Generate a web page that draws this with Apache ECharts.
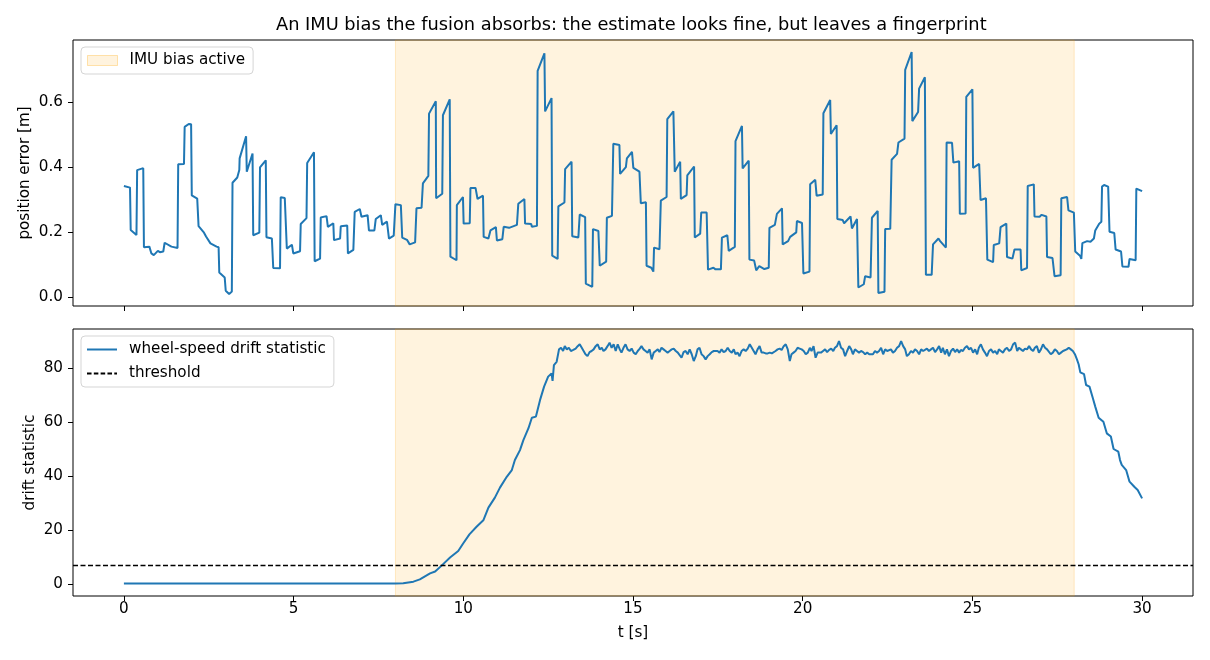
<!DOCTYPE html>
<html lang="en">
<head>
  <meta charset="UTF-8">
  <script src="https://cdn.jsdelivr.net/npm/echarts@6/dist/echarts.min.js"></script>
  <title>IMU bias fingerprint</title>
</head>
<body style="margin:0;background:#fff;">
  <div id="main" style="width:1210px;height:660px;"></div>
  <script type="text/javascript">
    // tick positions / labels
    var xTicks = [0, 5, 10, 15, 20, 25, 30];
    var errTicks = [0.0, 0.2, 0.4, 0.6];
    var driftTicks = [0, 20, 40, 60, 80];

    // bias window [s] and detection threshold
    var biasSpan = [8, 28];
    var threshold = 6.8;

    // position error [m], (t, value) vertices
    var errPoints = [
      [0.00,0.342],[0.18,0.337],[0.20,0.206],[0.37,0.191],[0.39,0.391],[0.57,0.397],[0.59,0.153],[0.75,0.155],
      [0.81,0.134],[0.88,0.129],[1.00,0.142],[1.06,0.138],[1.16,0.140],[1.20,0.167],[1.40,0.155],[1.58,0.151],
      [1.60,0.409],[1.77,0.410],[1.79,0.524],[1.91,0.533],[1.98,0.532],[2.00,0.313],[2.16,0.303],[2.20,0.218],
      [2.36,0.198],[2.42,0.186],[2.55,0.165],[2.73,0.155],[2.79,0.153],[2.81,0.075],[2.97,0.060],[3.00,0.019],
      [3.10,0.009],[3.18,0.017],[3.20,0.352],[3.34,0.368],[3.40,0.391],[3.41,0.427],[3.60,0.495],[3.62,0.386],
      [3.79,0.442],[3.81,0.190],[3.99,0.198],[4.01,0.399],[4.18,0.421],[4.20,0.184],[4.36,0.180],[4.40,0.089],
      [4.60,0.088],[4.62,0.307],[4.74,0.305],[4.77,0.311],[4.80,0.149],[4.95,0.161],[4.99,0.134],[5.19,0.141],
      [5.21,0.225],[5.38,0.243],[5.40,0.413],[5.60,0.446],[5.62,0.110],[5.78,0.118],[5.80,0.245],[5.97,0.249],
      [6.01,0.216],[6.17,0.227],[6.19,0.175],[6.37,0.180],[6.39,0.218],[6.58,0.220],[6.60,0.134],[6.76,0.145],
      [6.80,0.262],[6.95,0.271],[7.00,0.247],[7.18,0.252],[7.22,0.205],[7.38,0.205],[7.42,0.240],[7.57,0.252],
      [7.61,0.222],[7.75,0.232],[7.81,0.180],[7.95,0.189],[8.00,0.286],[8.16,0.283],[8.20,0.183],[8.34,0.176],
      [8.42,0.162],[8.58,0.168],[8.62,0.273],[8.77,0.275],[8.81,0.350],[8.97,0.373],[8.99,0.565],[9.19,0.603],
      [9.20,0.304],[9.38,0.318],[9.40,0.560],[9.60,0.609],[9.62,0.124],[9.80,0.113],[9.81,0.283],[9.99,0.308],
      [10.01,0.226],[10.19,0.227],[10.21,0.336],[10.36,0.336],[10.42,0.302],[10.58,0.312],[10.60,0.185],[10.74,0.180],
      [10.80,0.205],[10.96,0.215],[10.99,0.174],[11.15,0.178],[11.19,0.216],[11.35,0.213],[11.40,0.216],[11.58,0.222],
      [11.62,0.287],[11.80,0.302],[11.82,0.226],[12.00,0.225],[12.02,0.216],[12.17,0.219],[12.19,0.697],[12.39,0.751],
      [12.41,0.572],[12.60,0.613],[12.62,0.127],[12.78,0.117],[12.80,0.279],[12.98,0.291],[13.00,0.394],[13.19,0.417],
      [13.21,0.187],[13.39,0.183],[13.43,0.254],[13.59,0.246],[13.61,0.041],[13.80,0.031],[13.82,0.209],[13.98,0.203],
      [14.02,0.096],[14.21,0.109],[14.23,0.244],[14.38,0.250],[14.42,0.472],[14.60,0.468],[14.62,0.379],[14.79,0.400],
      [14.82,0.427],[14.97,0.447],[15.01,0.398],[15.19,0.386],[15.23,0.289],[15.38,0.292],[15.40,0.096],[15.54,0.090],
      [15.60,0.078],[15.62,0.152],[15.78,0.147],[15.82,0.297],[15.99,0.308],[16.01,0.548],[16.19,0.572],[16.23,0.386],
      [16.39,0.417],[16.41,0.302],[16.58,0.314],[16.60,0.375],[16.80,0.402],[16.82,0.183],[16.98,0.195],[17.01,0.260],
      [17.17,0.260],[17.21,0.084],[17.37,0.090],[17.43,0.085],[17.59,0.085],[17.62,0.183],[17.78,0.190],[17.82,0.142],
      [18.00,0.154],[18.02,0.480],[18.21,0.527],[18.23,0.396],[18.41,0.420],[18.43,0.115],[18.57,0.112],[18.63,0.082],
      [18.72,0.095],[18.87,0.086],[19.00,0.090],[19.02,0.213],[19.18,0.222],[19.24,0.256],[19.39,0.273],[19.41,0.162],
      [19.57,0.172],[19.63,0.185],[19.81,0.199],[19.83,0.234],[19.98,0.228],[20.02,0.072],[20.20,0.078],[20.22,0.347],
      [20.37,0.361],[20.41,0.312],[20.59,0.316],[20.61,0.566],[20.81,0.607],[20.83,0.502],[21.00,0.529],[21.02,0.240],
      [21.18,0.237],[21.22,0.227],[21.41,0.248],[21.45,0.211],[21.60,0.240],[21.64,0.029],[21.80,0.039],[21.84,0.064],
      [22.00,0.060],[22.04,0.244],[22.21,0.265],[22.23,0.012],[22.41,0.016],[22.43,0.209],[22.58,0.210],[22.62,0.423],
      [22.78,0.441],[22.82,0.476],[23.00,0.488],[23.02,0.700],[23.21,0.755],[23.23,0.542],[23.40,0.570],[23.43,0.642],
      [23.60,0.677],[23.63,0.068],[23.80,0.068],[23.84,0.162],[24.00,0.180],[24.05,0.172],[24.10,0.175],[24.22,0.152],
      [24.24,0.476],[24.40,0.475],[24.44,0.414],[24.61,0.418],[24.63,0.256],[24.80,0.257],[24.82,0.617],[25.00,0.640],
      [25.02,0.398],[25.20,0.410],[25.24,0.299],[25.40,0.304],[25.44,0.115],[25.61,0.107],[25.63,0.160],[25.79,0.165],
      [25.83,0.215],[26.00,0.226],[26.02,0.123],[26.18,0.118],[26.24,0.146],[26.42,0.146],[26.44,0.082],[26.61,0.089],
      [26.63,0.342],[26.81,0.347],[26.83,0.248],[26.98,0.247],[27.04,0.253],[27.18,0.248],[27.20,0.123],[27.36,0.120],
      [27.42,0.064],[27.60,0.067],[27.62,0.304],[27.79,0.308],[27.83,0.267],[27.99,0.260],[28.03,0.140],[28.17,0.127],
      [28.21,0.117],[28.24,0.166],[28.38,0.172],[28.48,0.170],[28.58,0.180],[28.62,0.205],[28.74,0.226],[28.80,0.232],
      [28.82,0.340],[28.88,0.345],[29.00,0.340],[29.04,0.201],[29.18,0.197],[29.22,0.146],[29.38,0.140],[29.42,0.094],
      [29.60,0.093],[29.63,0.117],[29.81,0.113],[29.83,0.334],[30.00,0.326]
    ];

    // wheel-speed drift statistic: quiet, ramp, plateau, decay (t, value)
    var driftRise = [
      [0.00,0.2],[8.00,0.2],[8.23,0.25],[8.53,0.86],[8.72,1.7],[9.02,3.95],[9.17,4.6],[9.36,6.8],[9.61,9.8],
      [9.85,12.2],[10.00,15.1],[10.18,18.4],[10.39,21.2],[10.59,23.6],[10.74,28.3],[10.93,32.0],[11.08,35.7],
      [11.28,39.7],[11.43,42.2],[11.52,45.9],[11.67,49.6],[11.77,53.3],[11.92,57.7],[12.02,61.6],[12.14,62.0],
      [12.26,68.1],[12.38,73.1],[12.50,76.8],[12.60,78.0],[12.63,75.2],[12.67,81.1],[12.75,82.3]
    ];
    var driftPlateau = [
      [12.82,86.9],[12.88,87.5],[12.94,86.3],[12.99,88.1],[13.05,86.9],[13.11,87.5],[13.17,86.3],[13.24,86.7],
      [13.31,87.2],[13.37,88.1],[13.43,88.8],[13.49,87.5],[13.54,86.9],[13.60,85.1],[13.66,84.4],[13.72,85.9],
      [13.78,86.3],[13.84,86.9],[13.90,88.1],[13.96,88.8],[14.02,86.9],[14.08,87.5],[14.13,86.3],[14.19,86.9],
      [14.25,88.1],[14.31,89.4],[14.37,87.5],[14.43,88.8],[14.49,86.3],[14.55,88.8],[14.61,86.9],[14.66,85.7],
      [14.72,87.5],[14.78,88.8],[14.84,86.9],[14.90,86.3],[14.96,87.2],[15.02,85.7],[15.08,85.1],[15.14,86.3],
      [15.20,87.2],[15.25,88.1],[15.31,86.9],[15.37,86.3],[15.43,85.7],[15.49,86.9],[15.55,83.2],[15.61,85.7],
      [15.67,86.3],[15.73,86.9],[15.78,85.9],[15.84,87.5],[15.90,86.9],[15.96,86.3],[16.02,85.7],[16.08,86.3],
      [16.14,86.9],[16.20,87.2],[16.26,86.3],[16.32,85.7],[16.37,86.3],[16.43,83.8],[16.49,85.9],[16.55,86.3],
      [16.61,85.1],[16.67,86.9],[16.73,85.1],[16.79,82.6],[16.85,84.4],[16.90,86.9],[16.96,87.5],[17.02,85.1],
      [17.08,84.4],[17.14,83.2],[17.20,84.4],[17.26,85.1],[17.32,85.9],[17.38,86.3],[17.43,85.9],[17.49,86.3],
      [17.55,85.7],[17.61,86.9],[17.67,85.9],[17.73,86.3],[17.79,87.5],[17.85,86.3],[17.91,85.7],[17.97,86.9],
      [18.02,85.1],[18.08,85.7],[18.14,84.4],[18.20,86.3],[18.26,86.9],[18.32,86.3],[18.38,87.2],[18.44,88.8],
      [18.50,87.5],[18.55,86.9],[18.61,85.1],[18.67,86.9],[18.73,88.1],[18.79,85.7],[18.85,85.7],[18.91,85.4],
      [18.97,85.4],[19.03,85.7],[19.09,85.4],[19.14,85.7],[19.20,86.3],[19.26,86.9],[19.32,87.2],[19.38,86.7],
      [19.44,88.1],[19.50,88.8],[19.56,86.9],[19.62,82.6],[19.67,85.1],[19.73,85.7],[19.79,86.3],[19.85,87.5],
      [19.91,87.2],[19.97,86.9],[20.03,86.3],[20.09,85.1],[20.15,85.7],[20.21,87.5],[20.26,86.3],[20.32,88.1],
      [20.38,83.8],[20.44,85.7],[20.54,85.7],[20.60,86.3],[20.66,86.9],[20.72,85.9],[20.78,86.7],[20.84,87.2],
      [20.90,86.3],[20.95,87.5],[21.01,88.1],[21.07,90.0],[21.13,87.5],[21.19,86.9],[21.25,84.4],[21.31,86.3],
      [21.37,88.1],[21.43,86.9],[21.48,85.1],[21.54,86.9],[21.60,86.3],[21.66,85.7],[21.72,86.3],[21.78,85.9],
      [21.84,85.1],[21.90,85.7],[21.96,85.1],[22.01,84.4],[22.07,85.1],[22.13,86.3],[22.19,85.7],[22.25,86.3],
      [22.31,87.5],[22.37,85.1],[22.43,86.9],[22.49,86.3],[22.54,85.9],[22.60,86.9],[22.66,85.7],[22.72,86.3],
      [22.78,87.5],[22.84,88.1],[22.90,90.0],[22.96,88.1],[23.02,86.9],[23.07,84.4],[23.13,85.1],[23.19,86.3],
      [23.25,85.7],[23.31,86.9],[23.37,86.3],[23.43,85.1],[23.49,86.9],[23.55,86.3],[23.60,85.7],[23.66,87.2],
      [23.72,86.3],[23.78,86.9],[23.84,87.5],[23.90,85.9],[23.96,86.9],[24.02,88.1],[24.08,85.7],[24.13,87.5],
      [24.19,85.1],[24.25,86.9],[24.31,84.4],[24.37,86.3],[24.43,87.2],[24.49,85.9],[24.55,86.9],[24.61,85.7],
      [24.66,86.7],[24.72,86.3],[24.78,87.5],[24.84,88.1],[24.90,86.9],[24.96,87.5],[25.02,85.7],[25.08,86.9],
      [25.14,85.1],[25.19,87.5],[25.25,88.8],[25.31,86.9],[25.37,85.7],[25.43,84.4],[25.49,86.3],[25.55,86.9],
      [25.61,85.7],[25.67,86.3],[25.73,85.1],[25.78,86.9],[25.84,86.3],[25.90,85.7],[25.96,86.9],[26.02,87.5],
      [26.08,86.3],[26.14,86.9],[26.20,88.8],[26.26,89.4],[26.32,86.3],[26.37,87.5],[26.43,86.9],[26.49,86.3],
      [26.55,87.2],[26.61,86.9],[26.67,88.1],[26.73,86.9],[26.79,86.3],[26.84,87.5],[26.90,88.1],[26.96,85.7],
      [27.02,86.9],[27.08,88.8],[27.14,87.5],[27.20,86.9],[27.25,86.3],[27.31,85.1],[27.37,85.7],[27.43,86.9],
      [27.49,86.3],[27.55,85.1],[27.61,85.7],[27.67,86.3],[27.72,86.3],[27.78,86.9],[27.84,87.5],[27.90,86.9],
      [27.96,86.3],[28.02,85.1],[28.08,83.2],[28.13,81.4]
    ];
    var driftDecay = [
      [28.18,78.4],[28.29,77.7],[28.35,73.7],[28.45,73.1],[28.55,68.8],[28.62,65.7],[28.72,61.6],[28.86,60.1],
      [28.96,55.8],[29.08,54.6],[29.16,50.0],[29.30,49.0],[29.35,45.9],[29.40,44.1],[29.53,42.2],[29.63,37.9],
      [29.77,36.0],[29.87,34.8],[30.00,31.7]
    ];

    var driftPoints = driftRise.concat(driftPlateau, driftDecay);

    var myChart = echarts.init(document.getElementById('main'));
    var FONT = 'DejaVu Sans';
    var FS = 15.2;
    var BLUE = '#1f77b4';
    var SPAN_FILL = 'rgba(255,165,0,0.13)';
    var SPAN_EDGE = 'rgba(255,165,0,0.2)';
    var DASH_ICON = 'path://M0,0h5v2h-5zM7.5,0h5v2h-5zM15,0h5v2h-5zM22.5,0h5v2h-5zM30,0h3v2h-3z';

    function xAxisFor(idx, withLabels) {
      return {
        type: 'value', gridIndex: idx, min: -1.5, max: 31.5,
        splitLine: {show: false},
        axisLine: {show: false, onZero: false},
        axisTick: {show: true, customValues: xTicks, length: 5, lineStyle: {color: '#000', width: 1}},
        axisLabel: {show: withLabels, customValues: xTicks, color: '#000', fontSize: FS, fontFamily: FONT, margin: 6},
        name: withLabels ? 't [s]' : '',
        nameLocation: 'middle', nameGap: 30,
        nameTextStyle: {color: '#000', fontSize: FS, fontFamily: FONT}
      };
    }

    function spanArea() {
      return {
        silent: true,
        itemStyle: {color: SPAN_FILL, borderColor: SPAN_EDGE, borderWidth: 1},
        data: [[{xAxis: biasSpan[0]}, {xAxis: biasSpan[1]}]]
      };
    }

    var legendBox = {
      backgroundColor: 'rgba(255,255,255,0.8)', borderColor: '#d5d5d5', borderWidth: 1, borderRadius: 4,
      textStyle: {color: '#000', fontSize: FS, fontFamily: FONT, padding: [0, 0, 0, 7]}
    };

    var option = {
      animation: false,
      backgroundColor: '#fff',
      title: {
        text: 'An IMU bias the fusion absorbs: the estimate looks fine, but leaves a fingerprint',
        left: 271, top: 11,
        textStyle: {color: '#000', fontSize: 17.8, fontWeight: 'normal', fontFamily: FONT}
      },
      grid: [
        {left: 73, top: 40, width: 1120, height: 266, show: true, borderColor: '#000', borderWidth: 1, backgroundColor: 'transparent'},
        {left: 73, top: 329, width: 1120, height: 267, show: true, borderColor: '#000', borderWidth: 1, backgroundColor: 'transparent'}
      ],
      legend: [
        Object.assign({
          left: 81, top: 47, padding: [6, 8, 6, 6],
          itemWidth: 30, itemHeight: 10,
          data: [{name: 'IMU bias active', icon: 'rect',
                  itemStyle: {color: SPAN_FILL, borderColor: 'rgba(255,165,0,0.3)', borderWidth: 1}}]
        }, legendBox),
        Object.assign({
          left: 81, top: 336, orient: 'vertical', padding: [6, 8, 6, 6], itemGap: 9,
          itemWidth: 30, itemHeight: 2,
          data: [
            {name: 'wheel-speed drift statistic', icon: 'rect', itemStyle: {color: BLUE}},
            {name: 'threshold', icon: DASH_ICON, itemStyle: {color: '#000'}}
          ]
        }, legendBox)
      ],
      xAxis: [xAxisFor(0, false), xAxisFor(1, true)],
      yAxis: [
        {
          type: 'value', gridIndex: 0, min: -0.028, max: 0.792,
          splitLine: {show: false}, axisLine: {show: false, onZero: false},
          axisTick: {show: true, customValues: errTicks, length: 5, lineStyle: {color: '#000'}},
          axisLabel: {customValues: errTicks, color: '#000', fontSize: FS, fontFamily: FONT, margin: 10,
                      formatter: function (v) { return v.toFixed(1); }},
          name: 'position error [m]', nameLocation: 'middle', nameGap: 40, nameMoveOverlap: false,
          nameTextStyle: {color: '#000', fontSize: FS, fontFamily: FONT}
        },
        {
          type: 'value', gridIndex: 1, min: -4.45, max: 94.45,
          splitLine: {show: false}, axisLine: {show: false, onZero: false},
          axisTick: {show: true, customValues: driftTicks, length: 5, lineStyle: {color: '#000'}},
          axisLabel: {customValues: driftTicks, color: '#000', fontSize: FS, fontFamily: FONT, margin: 10},
          name: 'drift statistic', nameLocation: 'middle', nameGap: 35, nameMoveOverlap: false,
          nameTextStyle: {color: '#000', fontSize: FS, fontFamily: FONT}
        }
      ],
      series: [
        {
          name: 'IMU bias active', type: 'line', xAxisIndex: 0, yAxisIndex: 0, z: 1,
          data: [], symbol: 'none', itemStyle: {color: SPAN_FILL},
          markArea: spanArea()
        },
        {
          name: 'position error', type: 'line', xAxisIndex: 0, yAxisIndex: 0, z: 3,
          data: errPoints, symbol: 'none', lineStyle: {color: BLUE, width: 2}, itemStyle: {color: BLUE}
        },
        {
          name: 'bias window', type: 'line', xAxisIndex: 1, yAxisIndex: 1, z: 1,
          data: [], symbol: 'none',
          markArea: spanArea()
        },
        {
          name: 'wheel-speed drift statistic', type: 'line', xAxisIndex: 1, yAxisIndex: 1, z: 3,
          data: driftPoints, symbol: 'none', lineStyle: {color: BLUE, width: 2}, itemStyle: {color: BLUE}
        },
        {
          name: 'threshold', type: 'line', xAxisIndex: 1, yAxisIndex: 1, z: 2,
          data: [], symbol: 'none',
          lineStyle: {color: '#000', width: 1.3, type: [5, 2.5]}, itemStyle: {color: '#000'},
          markLine: {
            silent: true, symbol: ['none', 'none'], label: {show: false},
            lineStyle: {color: '#000', width: 1.3, type: [5, 2.5]},
            data: [{yAxis: threshold}]
          }
        }
      ]
    };
    myChart.setOption(option);
  </script>
</body>
</html>
